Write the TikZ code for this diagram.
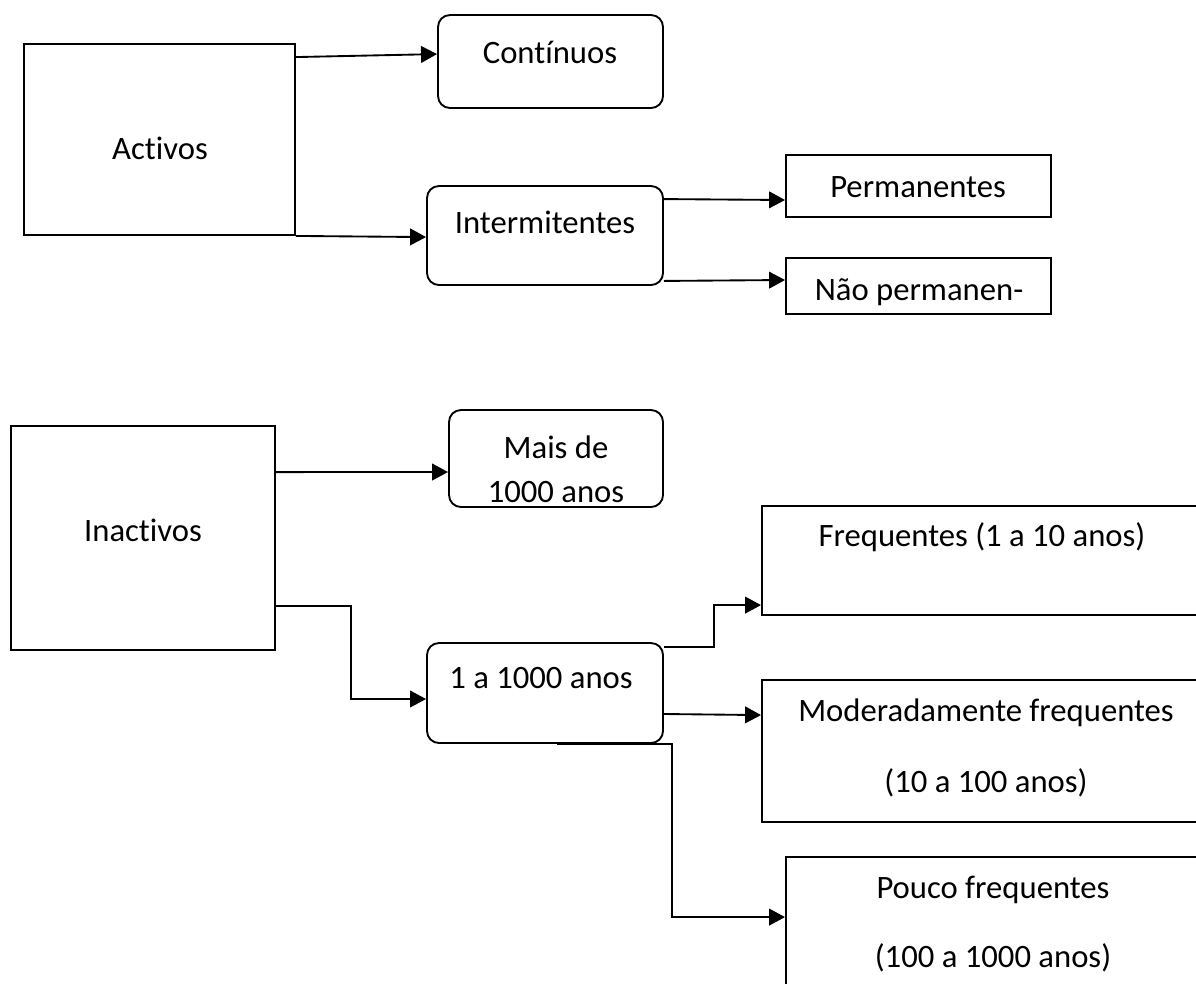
\documentclass[tikz,border=0pt]{standalone}
\usepackage{fontspec}
\setmainfont[Ligatures=NoCommon]{Carlito}
\usetikzlibrary{arrows.meta,calc}
\tikzset{
  box/.style={draw, line width=1.4pt, inner sep=0pt, rectangle},
  rbox/.style={box, rounded corners=9pt},
  lbl/.style={font=\fontsize{24.5}{29}\selectfont, inner sep=0pt, anchor=center},
  conn/.style={line width=1.4pt, -{Triangle[length=12pt,width=12.5pt]}},
  plain/.style={line width=1.4pt}
}
\begin{document}
\begin{tikzpicture}[x=0.75pt,y=-0.75pt]
\useasboundingbox (0,0) rectangle (1196,983);
\clip (0,0) rectangle (1196,983);
% boxes
\node[box, minimum width=203.25pt, minimum height=143.25pt] (act) at (159.5,139.5) {};
\node[rbox, minimum width=168.75pt, minimum height=69.75pt] (cont) at (550.5,61.5) {};
\node[rbox, minimum width=177pt, minimum height=74.25pt] (inter) at (545,235.5) {};
\node[box, minimum width=198.75pt, minimum height=46.5pt] (perm) at (918.5,186) {};
\node[box, minimum width=198.75pt, minimum height=42pt] (nao) at (918.5,286) {};
\node[box, minimum width=198pt, minimum height=168pt] (inact) at (143,538) {};
\node[rbox, minimum width=160.5pt, minimum height=72.75pt] (mais) at (556,458.5) {};
\node[rbox, minimum width=177pt, minimum height=75pt] (one) at (545,693) {};
\node[box, minimum width=336pt, minimum height=81.75pt] (freq) at (986,560.5) {};
\node[box, minimum width=336pt, minimum height=106.5pt] (mod) at (986,751) {};
\node[box, minimum width=318pt, minimum height=111pt] (pouco) at (998,931) {};
% texts
\node[lbl] (tact) at (160,148) {Activos};
\node[lbl] (tcont) at (550,52) {Contínuos};
\node[lbl] (tinter) at (545,222) {Intermitentes};
\node[lbl] (tperm) at (918,187) {Permanentes};
\node[lbl] (tnao) at (919,292) {Não permanen-};
\node[lbl] (tinact) at (143,530) {Inactivos};
\node[lbl] (tmais1) at (556,447) {Mais de};
\node[lbl] (tmais2) at (556,492) {1000 anos};
\node[lbl] (tone) at (541,678) {1 a 1000 anos};
\node[lbl] (tfreq) at (982,537) {Frequentes (1 a 10 anos)};
\node[lbl] (tmod1) at (986,713) {Moderadamente frequentes};
\node[lbl] (tmod2) at (986,783) {(10 a 100 anos)};
\node[lbl] (tpou1) at (993,890) {Pouco frequentes};
\node[lbl] (tpou2) at (993,958) {(100 a 1000 anos)};
% connectors
\draw[conn] ($(act.north east)+(0,14)$) -- ($(cont.north west)+(0,40)$);
\draw[conn] (act.south east) -- ($(inter.north west)+(0,52)$);
\draw[conn] ($(inter.north east)+(0,14)$) -- ($(perm.west)+(0,14)$);
\draw[conn] ($(inter.south east)+(0,-5)$) -- ($(nao.west)+(0,-6)$);
\draw[conn] ($(inact.north east)+(0,47)$) -- ($(mais.west)+(0,13.5)$);
\draw[conn] ($(inact.north east)+(0,181)$) -- ++(75,0) |- ($(one.west)+(0,6)$);
\draw[conn] ($(one.north east)+(0,5)$) -- ++(50,0) |- ($(freq.north west)+(0,100)$);
\draw[conn] ($(one.east)+(0,21)$) -- ($(mod.north west)+(0,36)$);
\draw[conn] ($(one.south)+(12,0)$) -- ++(115,0) |- ($(pouco.north west)+(0,61)$);
\end{tikzpicture}
\end{document}
